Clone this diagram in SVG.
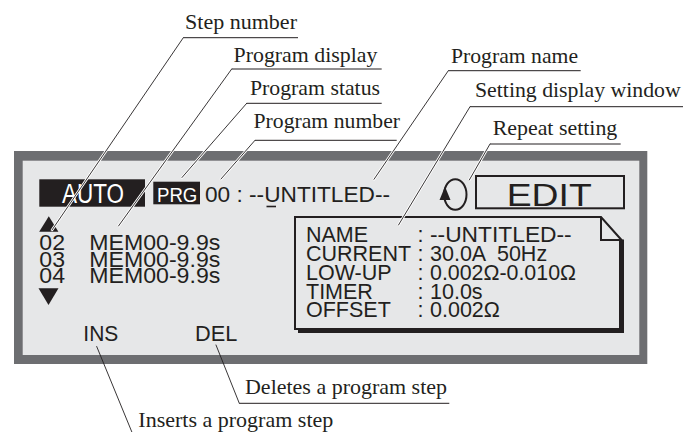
<svg xmlns="http://www.w3.org/2000/svg" width="683" height="432" viewBox="0 0 683 432">
<style>
.lbl{font-family:"Liberation Serif","Times New Roman",serif;font-size:22px;fill:#231f20}
.lcd{font-family:"Liberation Sans",Arial,sans-serif;fill:#231f20}
.ul{stroke:#231f20;stroke-width:1;fill:none}
.halo{stroke:#ffffff;stroke-width:2.6;fill:none;stroke-linecap:round}
.lead{stroke:#231f20;stroke-width:0.9;fill:none;stroke-linecap:round}
</style>
<rect width="683" height="432" fill="#ffffff"/>
<g id="panel">
<rect x="14" y="151" width="633.3" height="213" fill="#6d6e71"/>
<rect x="22.7" y="160.7" width="616.6" height="194.3" fill="#e6e7e8"/>
</g>
<g id="auto">
<rect x="39.3" y="179.3" width="105.7" height="27.4" fill="#231f20"/>
<text x="62" y="203" class="lcd" font-size="27" fill="#ffffff" style="fill:#fff" textLength="62" lengthAdjust="spacingAndGlyphs">AUTO</text>
</g>
<g id="prg">
<rect x="153.3" y="181.7" width="46.7" height="22.6" fill="#231f20"/>
<text x="157" y="201.7" class="lcd" font-size="21" style="fill:#fff" textLength="40.3" lengthAdjust="spacingAndGlyphs">PRG</text>
</g>
<g id="program-name">
<text x="205" y="202" class="lcd" font-size="22.5" textLength="185" lengthAdjust="spacingAndGlyphs">00 : --UNTITLED--</text>
<line x1="266.5" y1="206.5" x2="276" y2="206.5" stroke="#231f20" stroke-width="1.6"/>
</g>
<g id="repeat">
<ellipse cx="455.3" cy="194.5" rx="11.2" ry="15.3" fill="none" stroke="#231f20" stroke-width="2"/>
<polygon points="445,186.5 439.5,200 450.5,200" fill="#231f20"/>
</g>
<g id="edit">
<rect x="476" y="176" width="148" height="32.3" fill="none" stroke="#231f20" stroke-width="2"/>
<text x="506.7" y="205.7" class="lcd" font-size="32" textLength="85" lengthAdjust="spacingAndGlyphs">EDIT</text>
</g>
<g id="steps">
<polygon points="48.8,216.3 39.2,231.8 58.4,231.8" fill="#231f20"/>
<polygon points="38.5,288.3 58.5,288.3 48.5,305" fill="#231f20"/>
<text x="39.3" y="250" class="lcd" font-size="22" textLength="25.7" lengthAdjust="spacingAndGlyphs">02</text>
<text x="39.3" y="266.5" class="lcd" font-size="22" textLength="25.7" lengthAdjust="spacingAndGlyphs">03</text>
<text x="39.3" y="283" class="lcd" font-size="22" textLength="25.7" lengthAdjust="spacingAndGlyphs">04</text>
<text x="89.3" y="250" class="lcd" font-size="22" textLength="131" lengthAdjust="spacingAndGlyphs">MEM00-9.9s</text>
<text x="89.3" y="266.5" class="lcd" font-size="22" textLength="131" lengthAdjust="spacingAndGlyphs">MEM00-9.9s</text>
<text x="89.3" y="283" class="lcd" font-size="22" textLength="131" lengthAdjust="spacingAndGlyphs">MEM00-9.9s</text>
</g>
<g id="setting-window">
<rect x="619" y="239.5" width="5" height="93.5" fill="#231f20"/>
<rect x="298" y="328.3" width="326" height="4.7" fill="#231f20"/>
<path d="M295,217 H601 L621.5,240 V329 H295 Z" fill="none" stroke="#231f20" stroke-width="2" stroke-linejoin="miter"/>
<path d="M601,217 V240 H621.5" fill="none" stroke="#231f20" stroke-width="2"/>
<g class="lcd" font-size="21.5">
<text x="306" y="241.5">NAME</text>
<text x="306" y="260.5">CURRENT</text>
<text x="306" y="279.5">LOW-UP</text>
<text x="306" y="298.5">TIMER</text>
<text x="306" y="317">OFFSET</text>
<text x="417.5" y="241.5">:</text>
<text x="417.5" y="260.5">:</text>
<text x="417.5" y="279.5">:</text>
<text x="417.5" y="298.5">:</text>
<text x="417.5" y="317">:</text>
<text x="430" y="241.5" textLength="141.7" lengthAdjust="spacingAndGlyphs">--UNTITLED--</text>
<text x="430" y="260.5" xml:space="preserve">30.0A  50Hz</text>
<text x="430" y="279.5" textLength="146" lengthAdjust="spacingAndGlyphs">0.002Ω-0.010Ω</text>
<text x="430" y="298.5">10.0s</text>
<text x="430" y="317">0.002Ω</text>
</g>
</g>
<g id="keys">
<text x="83.3" y="341" class="lcd" font-size="22" textLength="35" lengthAdjust="spacingAndGlyphs">INS</text>
<text x="195" y="341" class="lcd" font-size="22" textLength="42.3" lengthAdjust="spacingAndGlyphs">DEL</text>
</g>
<g id="connectors">
<g class="halo">
<path d="M183.3,37.7 L52,230"/>
<path d="M231.7,69 L118.5,226"/>
<path d="M246.7,103.3 L182,177.5"/>
<path d="M255,140.3 L221,179"/>
<path d="M448.3,70.7 L374,179.3"/>
<path d="M470,106.7 L398.5,225"/>
<path d="M490,144 L469.3,180"/>
</g>
<g class="lead">
<path d="M183.3,37.7 L52,230"/>
<path d="M231.7,69 L118.5,226"/>
<path d="M246.7,103.3 L182,177.5"/>
<path d="M255,140.3 L221,179"/>
<path d="M448.3,70.7 L374,179.3"/>
<path d="M470,106.7 L398.5,225"/>
<path d="M490,144 L469.3,180"/>
<path d="M216,345 L239.3,403.3"/>
<path d="M96.7,346.5 L133.5,436"/>
</g>
<g class="ul">
<path d="M183.3,37.7 H298"/>
<path d="M231.7,69 H381.7"/>
<path d="M246.7,103.3 H381.7"/>
<path d="M255,140.3 H396.7"/>
<path d="M448.3,70.7 H580.7"/>
<path d="M470,106.7 H683"/>
<path d="M490,144 H620.7"/>
<path d="M239.3,403.3 H449.3"/>
</g>
</g>
<g id="labels">
<text x="185" y="28.5" class="lbl" textLength="112" lengthAdjust="spacingAndGlyphs">Step number</text>
<text x="233.5" y="61.5" class="lbl" textLength="144" lengthAdjust="spacingAndGlyphs">Program display</text>
<text x="250" y="94.5" class="lbl" textLength="130" lengthAdjust="spacingAndGlyphs">Program status</text>
<text x="253.5" y="128" class="lbl" textLength="146.5" lengthAdjust="spacingAndGlyphs">Program number</text>
<text x="451" y="62.5" class="lbl" textLength="127" lengthAdjust="spacingAndGlyphs">Program name</text>
<text x="475" y="96.5" class="lbl" textLength="205.7" lengthAdjust="spacingAndGlyphs">Setting display window</text>
<text x="492.7" y="134.5" class="lbl" textLength="124.6" lengthAdjust="spacingAndGlyphs">Repeat setting</text>
<text x="245" y="394" class="lbl" textLength="202" lengthAdjust="spacingAndGlyphs">Deletes a program step</text>
<text x="138.3" y="427" class="lbl" textLength="195" lengthAdjust="spacingAndGlyphs">Inserts a program step</text>
</g>
</svg>
